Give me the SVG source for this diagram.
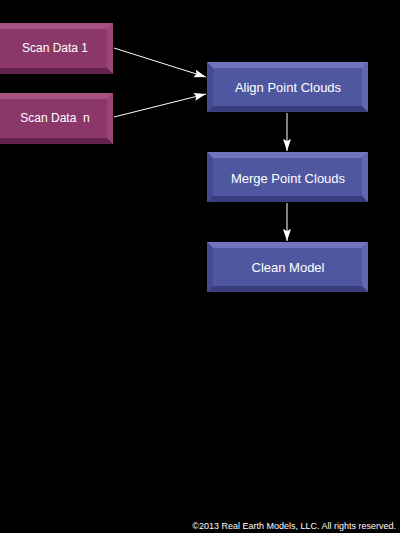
<svg xmlns="http://www.w3.org/2000/svg" width="400" height="533" viewBox="0 0 400 533">
<defs>
<style>
.t{font-family:"Liberation Sans",Arial,sans-serif;font-size:13px;fill:#ffffff;text-anchor:middle}
.s{font-size:12px}
.c{font-family:"Liberation Sans",Arial,sans-serif;font-size:9px;fill:#ffffff;text-anchor:end}
.ln{stroke:#ffffff;stroke-width:1;fill:none}
.bf{fill:#5057a1}.bt{fill:#7075bd}.br{fill:#6267b0}.bb{fill:#393d7e}.bl{fill:#454a90}
.pf{fill:#8c376a}.pt{fill:#a65282}.pr{fill:#9b4576}.pb{fill:#62244a}.pl{fill:#772c5a}
</style>
<marker id="ah" viewBox="0 0 12 8" refX="12" refY="4" markerWidth="12" markerHeight="8" markerUnits="userSpaceOnUse" orient="auto">
<path d="M0,0 L12,4 L0,8 L2,4 z" fill="#ffffff"/>
</marker>
</defs>
<rect width="400" height="533" fill="#000000"/>
<g id="connectors">
<line class="ln" x1="114" y1="48" x2="206" y2="77" marker-end="url(#ah)"/>
<line class="ln" x1="114" y1="117" x2="206" y2="94" marker-end="url(#ah)"/>
<line class="ln" x1="287" y1="113" x2="287" y2="151" marker-end="url(#ah)"/>
<line class="ln" x1="287" y1="203" x2="287" y2="241" marker-end="url(#ah)"/>
</g>
<g id="scan1">
<rect class="pf" x="-2" y="23" width="115" height="51"/>
<polygon class="pt" points="-2,23 113,23 107,29 -2,29"/>
<polygon class="pr" points="113,23 113,74 107,68 107,29"/>
<polygon class="pb" points="-2,74 113,74 107,68 -2,68"/>
<text class="t s" x="55" y="52">Scan Data 1</text>
</g>
<g id="scann">
<rect class="pf" x="-2" y="93" width="115" height="51"/>
<polygon class="pt" points="-2,93 113,93 107,99 -2,99"/>
<polygon class="pr" points="113,93 113,144 107,138 107,99"/>
<polygon class="pb" points="-2,144 113,144 107,138 -2,138"/>
<text class="t s" x="55" y="122" xml:space="preserve">Scan Data  n</text>
</g>
<g id="align">
<rect class="bf" x="207" y="62" width="161" height="50"/>
<polygon class="bt" points="207,62 368,62 362,68 213,68"/>
<polygon class="br" points="368,62 368,112 362,106 362,68"/>
<polygon class="bb" points="207,112 368,112 362,106 213,106"/>
<polygon class="bl" points="207,62 213,68 213,106 207,112"/>
<text class="t" x="288" y="92">Align Point Clouds</text>
</g>
<g id="merge">
<rect class="bf" x="207" y="152" width="161" height="50"/>
<polygon class="bt" points="207,152 368,152 362,158 213,158"/>
<polygon class="br" points="368,152 368,202 362,196 362,158"/>
<polygon class="bb" points="207,202 368,202 362,196 213,196"/>
<polygon class="bl" points="207,152 213,158 213,196 207,202"/>
<text class="t" x="288" y="183">Merge Point Clouds</text>
</g>
<g id="clean">
<rect class="bf" x="207" y="242" width="161" height="50"/>
<polygon class="bt" points="207,242 368,242 362,248 213,248"/>
<polygon class="br" points="368,242 368,292 362,286 362,248"/>
<polygon class="bb" points="207,292 368,292 362,286 213,286"/>
<polygon class="bl" points="207,242 213,248 213,286 207,292"/>
<text class="t" x="288" y="272">Clean Model</text>
</g>
<text class="c" x="396" y="529">©2013 Real Earth Models, LLC. All rights reserved.</text>
</svg>
